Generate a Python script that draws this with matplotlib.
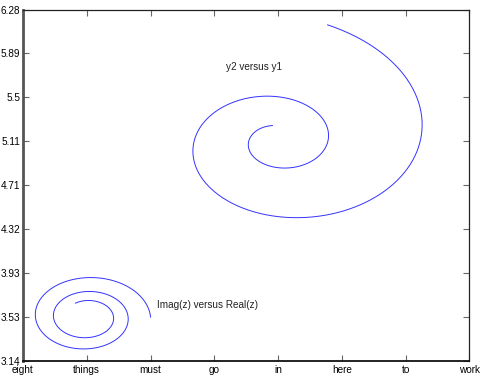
import numpy as np
import matplotlib
matplotlib.use("Agg")
import matplotlib.pyplot as plt

# axis labels / ticks
x_tick_labels = ["eight", "things", "must", "go", "in", "here", "to", "work"]
y_tick_values = [3.14, 3.53, 3.93, 4.32, 4.71, 5.11, 5.5, 5.89, 6.28]
y_tick_labels = ["3.14", "3.53", "3.93", "4.32", "4.71", "5.11", "5.5", "5.89", "6.28"]

# spiral parameters (x in tick units, y in data units)
# small spiral: Imag(z) versus Real(z)
small_center = [1.0, 3.534]
small_radius = [1.0, 0.393]     # x radius, y radius at the outer end
small_growth = 0.069            # log-spiral rate per radian
small_angles = [0.0, 14.65]     # start (outer end), stop (inner end), counterclockwise

# big spiral: y2 versus y1
big_center = [4.0, 5.105]
big_radius = [2.227, 0.875]     # radius at angle 0
big_growth = 0.167
big_angles = [1.286, -10.75]    # start (outer end), stop (inner end), clockwise

labels = ["Imag(z) versus Real(z)", "y2 versus y1"]
label_pos = [[2.10, 3.644], [3.19, 5.768]]

plt.rcParams['font.family'] = ['Liberation Sans', 'DejaVu Sans']
plt.rcParams['font.size'] = 7.2

fig = plt.figure(figsize=(4.83, 3.76), dpi=100)
ax = fig.add_axes([0.0476, 0.0399, 0.9244, 0.9348])

# small spiral, z = exp((-b + i) t)
t = np.linspace(small_angles[0], small_angles[1], 600)
z = np.exp((-small_growth + 1j) * t)
ax.plot(small_center[0] + small_radius[0] * z.real,
        small_center[1] + small_radius[1] * z.imag,
        color='#3333ff', lw=0.7)

# big spiral
a = np.linspace(big_angles[0], big_angles[1], 800)
r = np.exp(big_growth * a)
y1 = big_center[0] + big_radius[0] * r * np.cos(a)
y2 = big_center[1] + big_radius[1] * r * np.sin(a)
ax.plot(y1, y2, color='#3333ff', lw=0.7)

for txt, (x, y) in zip(labels, label_pos):
    ax.text(x, y, txt, ha='left', va='center', fontsize=7.2, color='#222222')

ax.set_xlim(0, len(x_tick_labels) - 1)
ax.set_ylim(np.pi, 2 * np.pi)
ax.set_xticks(range(len(x_tick_labels)))
ax.set_xticklabels(x_tick_labels)
ax.set_yticks(np.linspace(np.pi, 2 * np.pi, len(y_tick_values)))
ax.set_yticklabels(y_tick_labels)
ax.tick_params(direction='in', top=True, right=True, length=4, width=0.8,
               color='#666666', labelsize=7.2)
ax.tick_params(axis='x', pad=3)
ax.tick_params(axis='y', pad=2)

ax.spines['left'].set_linewidth(2)
ax.spines['left'].set_color('#555555')
ax.spines['bottom'].set_linewidth(1.3)
ax.spines['bottom'].set_color('#111111')
for s in ['top', 'right']:
    ax.spines[s].set_linewidth(0.9)
    ax.spines[s].set_color('#222222')

fig.savefig("out.png", dpi=100)
